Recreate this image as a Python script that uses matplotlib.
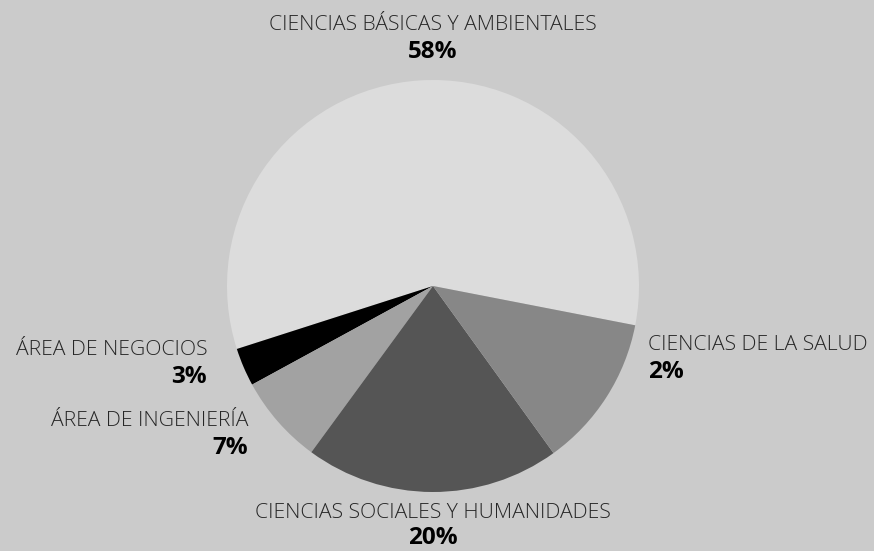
import matplotlib
matplotlib.use("Agg")
from matplotlib import pyplot as plt

# data
categories = ["CIENCIAS BÁSICAS Y AMBIENTALES", "ÁREA DE NEGOCIOS", "ÁREA DE INGENIERÍA",
              "CIENCIAS SOCIALES Y HUMANIDADES", "CIENCIAS DE LA SALUD"]
values = [58, 3, 7, 20, 12]
pct_labels = ["58%", "3%", "7%", "20%", "2%"]
colors = ["#dcdcdc", "#000000", "#a2a2a2", "#555555", "#878787"]

W, H = 874, 551
bg = "#cbcbcb"
plt.rcParams['font.family'] = ['Open Sans', 'DejaVu Sans']

fig = plt.figure(figsize=(W / 100, H / 100), dpi=100, facecolor=bg)
ax = fig.add_axes([0, 0, 1, 1])
ax.set_facecolor(bg)

ax.pie(values, colors=colors, startangle=-11, counterclock=True,
       center=(433, H - 286), radius=206, frame=True,
       wedgeprops=dict(linewidth=0))
ax.set_xlim(0, W)
ax.set_ylim(0, H)
ax.set_aspect("auto")
ax.axis("off")

# label positions (pixel coords from top), alignment
pos = [(433, 25, "center"), (207, 350, "right"), (248, 421, "right"),
       (433, 513, "center"), (648, 345, "left")]

for (x, y, ha), name, pct in zip(pos, categories, pct_labels):
    ax.text(x, H - y, name, ha=ha, va="center", fontsize=15.2,
            fontweight="light", color="#262626")
    off = 25 if y > 500 else 27
    ax.text(x, H - y - off, pct, ha=ha, va="center", fontsize=17.5,
            fontweight="bold", color="#000000")

fig.savefig("out.png", dpi=100, facecolor=bg)
